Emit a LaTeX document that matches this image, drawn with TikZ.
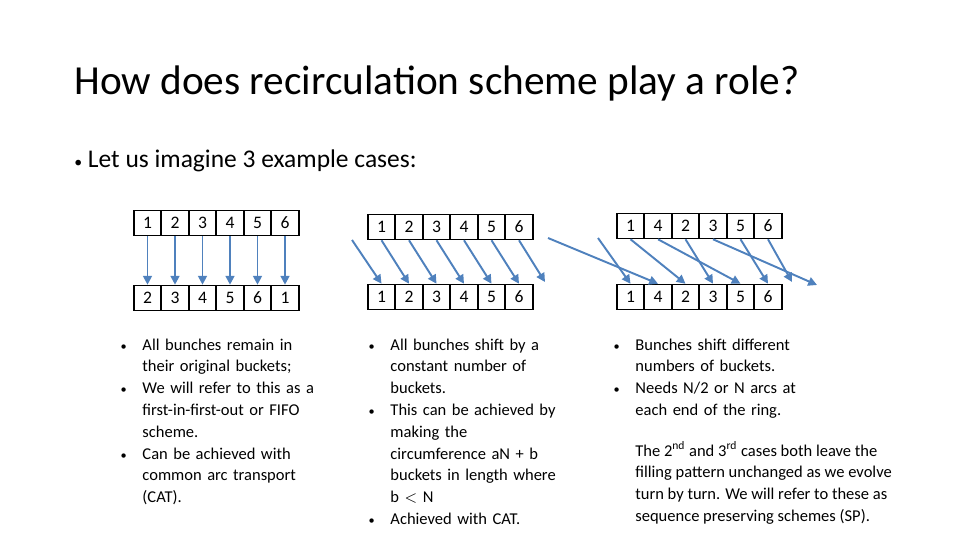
\documentclass[tikz,border=0pt]{standalone}
\usepackage{fontspec}
\setmainfont{Carlito}
\newfontfamily\titlefont{Carlito}
\usepackage{enumitem}
\usetikzlibrary{arrows.meta}
\definecolor{arrowblue}{HTML}{4F81BD}
\tikzset{
  cell/.style={draw,line width=0.9pt,minimum width=0.55cm,minimum height=0.5cm,inner sep=0pt,font=\fontsize{10}{11}\selectfont},
  movearrow/.style={draw=arrowblue,line width=1.1pt,-{Triangle[length=5pt,width=5pt]}},
  notes/.style={anchor=north west,inner sep=0pt,align=left,font=\fontsize{9.4}{12.4}\selectfont}
}
\newcommand{\bul}[1]{\begin{itemize}[leftmargin=16pt,labelsep=9pt,itemsep=0pt,parsep=0pt,topsep=0pt,label={\scriptsize\textbullet}]#1\end{itemize}}
\begin{document}
\begin{tikzpicture}[x=0.02cm,y=-0.02cm]
\useasboundingbox (0,0) rectangle (960,540);
\node[anchor=base west,inner sep=0pt,font=\fontsize{23.5}{28}\selectfont\titlefont] (title) at (74,95) {How does recirculation scheme play a role?};
\node[anchor=base west,inner sep=0pt,font=\fontsize{14.5}{18}\selectfont] (intro) at (74,168) {{\small\textbullet}\ Let us imagine 3 example cases:};
% case 1: FIFO
\foreach \v [count=\i] in {1,...,6} \node[cell] (g1t\i) at (120+27.5*\i,223) {\v};
\foreach \v [count=\i] in {2,3,4,5,6,1} \node[cell] (g1b\i) at (120+27.5*\i,298) {\v};
\foreach \i in {1,...,6} \draw[movearrow] (g1t\i.south) -- (g1b\i.north);
% case 2: constant shift
\foreach \v [count=\i] in {1,...,6} \node[cell] (g2t\i) at (354+27.5*\i,227) {\v};
\foreach \v [count=\i] in {1,...,6} \node[cell] (g2b\i) at (354+27.5*\i,297) {\v};
\coordinate (g2in) at (352,240);
\coordinate (g2out) at (545,282);
\draw[movearrow] (g2in) -- (g2b1.north);
\foreach \i [evaluate=\i as \j using int(\i+1)] in {1,...,5} \draw[movearrow] (g2t\i.south) -- (g2b\j.north);
\draw[movearrow] (g2t6.south) -- (g2out);
% case 3: different shifts
\foreach \v [count=\i] in {1,4,2,3,5,6} \node[cell] (g3t\i) at (603+27.5*\i,226) {\v};
\foreach \v [count=\i] in {1,4,2,3,5,6} \node[cell] (g3b\i) at (603+27.5*\i,297) {\v};
\coordinate (g3inA) at (548,238);
\coordinate (g3inB) at (598,238);
\coordinate (g3outA) at (817,285);
\coordinate (g3outB) at (792,282);
\draw[movearrow] (g3inA) -- (g3b2.north);
\draw[movearrow] (g3inB) -- (g3b1.north);
\draw[movearrow] (g3t1.south) -- (g3b3.north);
\draw[movearrow] (g3t2.south) -- (g3b5.north);
\draw[movearrow] (g3t3.south) -- (g3b4.north);
\draw[movearrow] (g3t4.south) -- (g3outA);
\draw[movearrow] (g3t5.south) -- (g3b6.north);
\draw[movearrow] (g3t6.south) -- (g3outB);
% notes
\node[notes,text width=4cm] (n1) at (114,328) {\bul{
  \item All bunches remain in\\their original buckets;
  \item We will refer to this as a\\first-in-first-out or FIFO\\scheme.
  \item Can be achieved with\\common arc transport\\(CAT).}};
\node[notes,text width=4cm] (n2) at (362,328) {\bul{
  \item All bunches shift by a\\constant number of\\buckets.
  \item This can be achieved by\\making the\\circumference aN + b\\buckets in length where\\b $<$ N
  \item Achieved with CAT.}};
\node[notes,text width=4cm] (n3) at (607,328) {\bul{
  \item Bunches shift different\\numbers of buckets.
  \item Needs N/2 or N arcs at\\each end of the ring.}};
\node[notes] (n4) at (635,441) {The 2\textsuperscript{nd} and 3\textsuperscript{rd} cases both leave the\\filling pattern unchanged as we evolve\\turn by turn. We will refer to these as\\sequence preserving schemes (SP).};
\end{tikzpicture}
\end{document}
